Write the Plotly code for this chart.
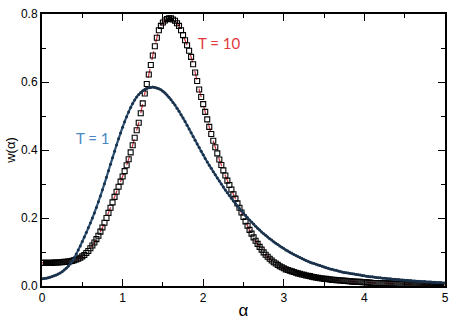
import plotly.graph_objects as go

alpha = [round(i * 0.025, 3) for i in range(201)]

w_T1 = [
    0.021, 0.022, 0.023, 0.024, 0.026, 0.028, 0.030, 0.032, 0.035, 0.038,
    0.042, 0.047, 0.052, 0.058, 0.065, 0.073, 0.083, 0.094, 0.106, 0.118,
    0.131, 0.144, 0.157, 0.171, 0.185, 0.200, 0.215, 0.231, 0.248, 0.265,
    0.283, 0.301, 0.320, 0.339, 0.358, 0.377, 0.396, 0.415, 0.433, 0.450,
    0.467, 0.483, 0.498, 0.512, 0.525, 0.537, 0.547, 0.556, 0.563, 0.569,
    0.574, 0.578, 0.581, 0.583, 0.584, 0.585, 0.584, 0.582, 0.580, 0.577,
    0.573, 0.568, 0.562, 0.555, 0.548, 0.540, 0.532, 0.523, 0.514, 0.504,
    0.494, 0.484, 0.473, 0.462, 0.451, 0.440, 0.429, 0.418, 0.407, 0.396,
    0.386, 0.375, 0.365, 0.355, 0.346, 0.336, 0.327, 0.318, 0.309, 0.300,
    0.291, 0.282, 0.274, 0.266, 0.258, 0.250, 0.243, 0.235, 0.228, 0.221,
    0.214, 0.207, 0.201, 0.194, 0.188, 0.182, 0.176, 0.170, 0.165, 0.159,
    0.154, 0.149, 0.144, 0.139, 0.135, 0.130, 0.126, 0.122, 0.118, 0.114,
    0.110, 0.106, 0.103, 0.099, 0.096, 0.093, 0.090, 0.087, 0.084, 0.081,
    0.078, 0.075, 0.073, 0.070, 0.068, 0.066, 0.064, 0.062, 0.060, 0.058,
    0.056, 0.054, 0.052, 0.050, 0.049, 0.047, 0.046, 0.044, 0.043, 0.041,
    0.040, 0.039, 0.038, 0.037, 0.036, 0.035, 0.034, 0.033, 0.032, 0.031,
    0.030, 0.029, 0.028, 0.027, 0.027, 0.026, 0.025, 0.024, 0.024, 0.023,
    0.023, 0.022, 0.021, 0.021, 0.020, 0.020, 0.019, 0.019, 0.018, 0.018,
    0.017, 0.017, 0.016, 0.016, 0.015, 0.015, 0.014, 0.014, 0.013, 0.013,
    0.013, 0.012, 0.012, 0.012, 0.011, 0.011, 0.010, 0.010, 0.010, 0.009,
    0.009]

w_T10 = [
    0.068, 0.068, 0.068, 0.068, 0.068, 0.068, 0.069, 0.069, 0.069, 0.070,
    0.070, 0.071, 0.071, 0.072, 0.073, 0.074, 0.076, 0.078, 0.080, 0.083,
    0.087, 0.091, 0.097, 0.103, 0.111, 0.119, 0.128, 0.138, 0.148, 0.160,
    0.172, 0.186, 0.200, 0.215, 0.230, 0.246, 0.262, 0.277, 0.292, 0.307,
    0.322, 0.338, 0.355, 0.373, 0.393, 0.414, 0.436, 0.458, 0.480, 0.508,
    0.537, 0.566, 0.594, 0.622, 0.650, 0.678, 0.705, 0.730, 0.752, 0.765,
    0.775, 0.781, 0.785, 0.787, 0.787, 0.784, 0.780, 0.773, 0.765, 0.752,
    0.738, 0.723, 0.708, 0.692, 0.674, 0.652, 0.628, 0.603, 0.578, 0.556,
    0.535, 0.512, 0.490, 0.468, 0.447, 0.427, 0.408, 0.390, 0.372, 0.356,
    0.340, 0.325, 0.310, 0.297, 0.284, 0.270, 0.257, 0.243, 0.230, 0.216,
    0.203, 0.190, 0.177, 0.165, 0.154, 0.143, 0.133, 0.124, 0.115, 0.107,
    0.099, 0.092, 0.086, 0.080, 0.075, 0.070, 0.066, 0.062, 0.058, 0.055,
    0.052, 0.049, 0.047, 0.045, 0.043, 0.041, 0.039, 0.037, 0.036, 0.034,
    0.033, 0.031, 0.030, 0.029, 0.027, 0.026, 0.025, 0.024, 0.023, 0.022,
    0.021, 0.021, 0.020, 0.019, 0.018, 0.018, 0.017, 0.017, 0.016, 0.016,
    0.015, 0.015, 0.014, 0.014, 0.013, 0.013, 0.012, 0.012, 0.012, 0.011,
    0.011, 0.011, 0.010, 0.010, 0.009, 0.009, 0.009, 0.009, 0.008, 0.008,
    0.008, 0.008, 0.007, 0.007, 0.007, 0.007, 0.006, 0.006, 0.006, 0.006,
    0.006, 0.005, 0.005, 0.005, 0.005, 0.005, 0.005, 0.004, 0.004, 0.004,
    0.004, 0.004, 0.004, 0.004, 0.004, 0.003, 0.003, 0.003, 0.003, 0.003,
    0.003]

x_ticks = [0, 1, 2, 3, 4, 5]
y_ticks = [0.0, 0.2, 0.4, 0.6, 0.8]
y_ticklabels = ["0.0", "0.2", "0.4", "0.6", "0.8"]

fig = go.Figure()

# T = 10: red dashed line + open black squares
fig.add_trace(go.Scatter(x=alpha, y=w_T10, mode="lines",
                         line=dict(color="#d0303a", width=1.2, dash="dash", shape="spline"),
                         showlegend=False, hoverinfo="skip"))
fig.add_trace(go.Scatter(x=alpha, y=w_T10, mode="markers",
                         marker=dict(symbol="square-open", size=5, color="black",
                                     line=dict(width=1.1, color="black")),
                         showlegend=False))

# T = 1: dark blue line + small dots
fig.add_trace(go.Scatter(x=alpha, y=w_T1, mode="lines",
                         line=dict(color="#2d5378", width=2.2, shape="spline"),
                         showlegend=False, hoverinfo="skip"))
fig.add_trace(go.Scatter(x=alpha, y=w_T1, mode="markers",
                         marker=dict(symbol="circle", size=3, color="#1b3149",
                                     line=dict(width=0)),
                         showlegend=False))

fig.add_annotation(x=0.63, y=0.434, text="T = 1", showarrow=False,
                   font=dict(family="Lato", size=15, color="#4a88c2"))
fig.add_annotation(x=2.19, y=0.716, text="T = 10", showarrow=False,
                   font=dict(family="Lato", size=15, color="#e03a3e"))

axis_common = dict(showline=True, linecolor="black", linewidth=2, mirror="allticks",
                   ticks="inside", ticklen=7, tickwidth=1.2, tickcolor="black",
                   showgrid=False, zeroline=False,
                   tickfont=dict(family="Liberation Sans", size=12, color="black"))

fig.update_xaxes(range=[0, 5], tickvals=x_ticks, ticktext=[str(v) for v in x_ticks],
                 minor=dict(dtick=0.5, ticks="inside", ticklen=4, tickcolor="black", tickwidth=1),
                 title=dict(text="α", font=dict(family="Liberation Sans", size=17, color="black"),
                            standoff=0),
                 **axis_common)
fig.update_yaxes(range=[0, 0.8], tickvals=y_ticks, ticktext=y_ticklabels,
                 minor=dict(dtick=0.1, ticks="inside", ticklen=4, tickcolor="black", tickwidth=1),
                 title=dict(text="w(α)", font=dict(family="Liberation Sans", size=13, color="black"),
                            standoff=2),
                 **axis_common)

fig.update_layout(width=456, height=324, margin=dict(l=42, r=7, t=10, b=29),
                  paper_bgcolor="white", plot_bgcolor="white")

fig.write_html("out.html")
